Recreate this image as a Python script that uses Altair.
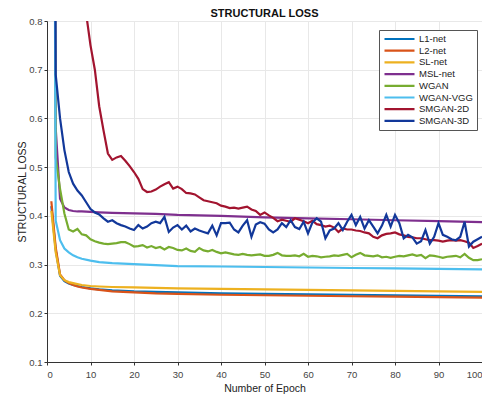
import altair as alt
import pandas as pd

SERIES = ["L1-net", "L2-net", "SL-net", "MSL-net", "WGAN", "WGAN-VGG", "SMGAN-2D", "SMGAN-3D"]
COLORS = ["#0072BD", "#D95319", "#EDB120", "#7E2F8E", "#77AC30", "#4DBEEE", "#A2142F", "#12389A"]

# smooth curves: sampled epochs
smooth_epochs = [1, 2, 3, 4, 5, 6, 7, 8, 10, 12, 15, 20, 25, 30, 40, 50, 60, 70, 80, 90, 100]
l1_net = [0.42, 0.33, 0.277, 0.266, 0.261, 0.258, 0.256, 0.254, 0.251, 0.249, 0.247, 0.245, 0.244, 0.243, 0.241, 0.240, 0.239, 0.238, 0.237, 0.236, 0.235]
l2_net = [0.43, 0.335, 0.28, 0.268, 0.262, 0.258, 0.255, 0.253, 0.250, 0.248, 0.245, 0.243, 0.241, 0.240, 0.238, 0.237, 0.236, 0.235, 0.234, 0.233, 0.232]
sl_net = [0.41, 0.325, 0.278, 0.268, 0.264, 0.262, 0.260, 0.258, 0.256, 0.255, 0.254, 0.253, 0.252, 0.251, 0.250, 0.249, 0.248, 0.247, 0.246, 0.245, 0.244]
msl_net = [3.0, 0.58, 0.435, 0.417, 0.412, 0.410, 0.409, 0.409, 0.408, 0.407, 0.406, 0.405, 0.404, 0.402, 0.400, 0.397, 0.395, 0.393, 0.391, 0.389, 0.387]
wgan_vgg = [3.0, 0.39, 0.35, 0.333, 0.325, 0.319, 0.315, 0.312, 0.308, 0.305, 0.303, 0.301, 0.299, 0.297, 0.296, 0.295, 0.294, 0.293, 0.292, 0.291, 0.290]

# noisy curves: every epoch 1..100
epochs = list(range(1, 101))
wgan = [3.0, 0.52, 0.455, 0.405, 0.372, 0.368, 0.373, 0.362, 0.36, 0.352,
        0.348, 0.345, 0.343, 0.342, 0.343, 0.344, 0.346, 0.346, 0.342, 0.337,
        0.338, 0.34, 0.335, 0.338, 0.334, 0.336, 0.331, 0.336, 0.334, 0.33,
        0.329, 0.333, 0.328, 0.326, 0.334, 0.329, 0.327, 0.33, 0.326, 0.323,
        0.325, 0.323, 0.321, 0.32, 0.322, 0.32, 0.319, 0.32, 0.321, 0.318,
        0.318, 0.32, 0.324, 0.319, 0.318, 0.318, 0.319, 0.317, 0.322, 0.316,
        0.318, 0.317, 0.315, 0.316, 0.317, 0.319, 0.318, 0.32, 0.322, 0.315,
        0.32, 0.324, 0.319, 0.318, 0.317, 0.319, 0.315, 0.316, 0.314, 0.316,
        0.318, 0.317, 0.319, 0.321, 0.318, 0.32, 0.313, 0.319, 0.318, 0.316,
        0.314, 0.316, 0.317, 0.318, 0.315, 0.322, 0.314, 0.309, 0.309, 0.311]
smgan_2d = [2.0, 1.6, 1.4, 1.25, 1.12, 1.02, 0.95, 0.88, 0.815, 0.75,
            0.70, 0.625, 0.575, 0.528, 0.515, 0.52, 0.523, 0.513, 0.502, 0.49,
            0.476, 0.455, 0.449, 0.45, 0.454, 0.46, 0.465, 0.469, 0.456, 0.46,
            0.455, 0.447, 0.446, 0.444, 0.438, 0.432, 0.43, 0.428, 0.426, 0.421,
            0.419, 0.416, 0.417, 0.415, 0.417, 0.419, 0.413, 0.41, 0.402, 0.407,
            0.401, 0.396, 0.389, 0.392, 0.39, 0.388, 0.395, 0.392, 0.389, 0.385,
            0.39, 0.383, 0.381, 0.378, 0.38, 0.376, 0.367, 0.374, 0.372, 0.372,
            0.37, 0.369, 0.366, 0.364, 0.357, 0.354, 0.36, 0.363, 0.364, 0.366,
            0.362, 0.36, 0.357, 0.356, 0.354, 0.354, 0.352, 0.35, 0.35, 0.349,
            0.347, 0.349, 0.35, 0.349, 0.35, 0.348, 0.345, 0.334, 0.338, 0.343]
smgan_3d = [3.0, 0.69, 0.60, 0.535, 0.49, 0.466, 0.452, 0.442, 0.428, 0.414,
            0.407, 0.403, 0.395, 0.388, 0.391, 0.385, 0.381, 0.378, 0.374, 0.371,
            0.381, 0.374, 0.378, 0.385, 0.388, 0.385, 0.398, 0.367, 0.376, 0.381,
            0.372, 0.38, 0.368, 0.374, 0.37, 0.367, 0.364, 0.38, 0.36, 0.385,
            0.385, 0.386, 0.372, 0.366, 0.38, 0.391, 0.357, 0.382, 0.387, 0.384,
            0.372, 0.366, 0.372, 0.385, 0.377, 0.391, 0.377, 0.373, 0.388, 0.364,
            0.386, 0.395, 0.388, 0.354, 0.37, 0.374, 0.385, 0.371, 0.388, 0.402,
            0.381, 0.398, 0.374, 0.391, 0.378, 0.364, 0.38, 0.402, 0.378, 0.402,
            0.385, 0.354, 0.361, 0.356, 0.343, 0.348, 0.371, 0.343, 0.357, 0.385,
            0.361, 0.357, 0.352, 0.35, 0.357, 0.388, 0.337, 0.347, 0.352, 0.357]

rows = []
for name, xs, ys in [
    ("L1-net", smooth_epochs, l1_net),
    ("L2-net", smooth_epochs, l2_net),
    ("SL-net", smooth_epochs, sl_net),
    ("MSL-net", smooth_epochs, msl_net),
    ("WGAN", epochs, wgan),
    ("WGAN-VGG", smooth_epochs, wgan_vgg),
    ("SMGAN-2D", epochs, smgan_2d),
    ("SMGAN-3D", epochs, smgan_3d),
]:
    for x, y in zip(xs, ys):
        rows.append({"series": name, "epoch": x, "loss": y})
df = pd.DataFrame(rows)

FONT = "Liberation Sans"

chart = alt.Chart(df).mark_line(clip=True, strokeWidth=2.2).encode(
    x=alt.X("epoch:Q", scale=alt.Scale(domain=[0, 100], nice=False),
            axis=alt.Axis(title="Number of Epoch", values=list(range(0, 101, 10)),
                          format="d", tickSize=3, labelPadding=4, titlePadding=5)),
    y=alt.Y("loss:Q", scale=alt.Scale(domain=[0.1, 0.8], nice=False, zero=False),
            axis=alt.Axis(title="STRUCTURAL LOSS", values=[0.1, 0.2, 0.3, 0.4, 0.5, 0.6, 0.7, 0.8],
                          format=".1f", tickSize=3, labelPadding=2, titlePadding=1)),
    color=alt.Color("series:N", scale=alt.Scale(domain=SERIES, range=COLORS),
                    legend=alt.Legend(title=None, orient="none", legendX=332, legendY=9,
                                      symbolType="stroke", symbolSize=900, symbolStrokeWidth=2.2,
                                      clipHeight=10,
                                      labelFontSize=9.5, labelFont=FONT, labelColor="#222222",
                                      labelOffset=3, rowPadding=1.7, padding=4,
                                      strokeColor="#555555", fillColor="white",
                                      direction="vertical")),
).properties(
    width=435, height=341,
    title=alt.TitleParams("STRUCTURAL LOSS", fontSize=11, font=FONT, fontWeight="bold",
                          offset=-3, frame="group", anchor="middle", color="#111111"),
    autosize=alt.AutoSizeParams(type="none"),
    padding={"left": 39, "top": 13, "right": 0, "bottom": 36},
).configure_view(stroke=None).configure_axis(
    labelFont=FONT, titleFont=FONT, labelFontSize=9.5, titleFontSize=10.5,
    labelColor="#444444", titleColor="#222222", titleFontWeight="normal",
    domainColor="#333333", tickColor="#333333", gridColor="#e8e8e8", grid=True,
)

chart.save("out.html", embed_options={"renderer": "svg", "actions": False})
